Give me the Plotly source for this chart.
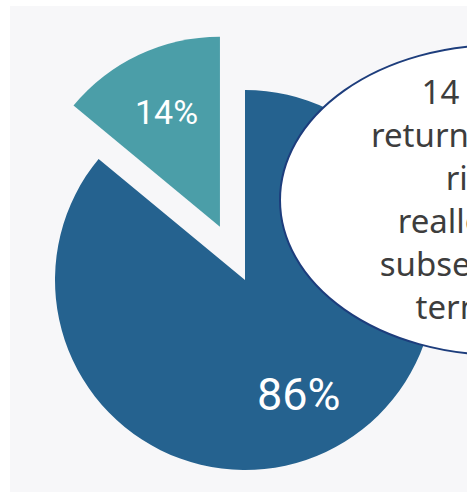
import math
import plotly.graph_objects as go

# Pie data: share of cases (percent) and slice styling, clockwise from 12 o'clock
labels = ["Remained", "Returned"]
shares = [86, 14]
slice_colors = ["#25628f", "#4b9ea8"]
pull = [0.0, 0.31]          # outward offset, as a fraction of the radius
label_sizes = [45, 34]

# Callout text, one entry per line
note_lines = [
    "14 percent",
    "returned to high-",
    "risk but",
    "reallocated to",
    "subsequent late",
    "term wards",
]

W, H = 467, 492
R = 190                      # pie radius in px
CX, CY = 245, 280            # pie centre in px (from top-left)
LABEL_R = 0.665              # label distance from slice centre, fraction of R
LABEL_FONT = "Roboto, sans-serif"
NOTE_FONT = "Noto Sans, Open Sans, sans-serif"


def pie_domain(cx, cy):
    return dict(x=[(cx - R) / W, (cx + R) / W],
                y=[(H - cy - R) / H, (H - cy + R) / H])


fig = go.Figure()

total = float(sum(shares))
n = len(shares)
acc = 0.0
for i in range(n):
    # mid angle of slice i, clockwise from 12 o'clock
    mid = (acc + shares[i] / 2.0) / total * 2 * math.pi
    acc += shares[i]
    ux, uy = math.sin(mid), -math.cos(mid)
    cx = CX + ux * pull[i] * R
    cy = CY + uy * pull[i] * R
    fig.add_trace(go.Pie(
        labels=labels,
        values=shares,
        sort=False,
        direction="clockwise",
        rotation=0,
        marker=dict(
            colors=[slice_colors[j] if j == i else "rgba(0,0,0,0)" for j in range(n)],
            line=dict(width=0),
        ),
        textinfo="none",
        domain=pie_domain(cx, cy),
        hoverinfo="skip",
        showlegend=False,
    ))
    # percentage label along the slice bisector
    lx = cx + ux * LABEL_R * R
    ly = cy + uy * LABEL_R * R
    fig.add_annotation(
        x=lx / W, y=(H - ly) / H, xref="paper", yref="paper",
        xanchor="center", yanchor="middle", showarrow=False,
        text=f"{shares[i] / total:.0%}",
        font=dict(family=LABEL_FONT, size=label_sizes[i], color="white"),
    )

# Light panel behind the chart
fig.add_shape(type="rect", xref="paper", yref="paper",
              x0=10 / W, x1=1.0, y0=0.0, y1=(H - 6) / H,
              fillcolor="#f7f7f9", line=dict(width=0), layer="below")

# Callout ellipse
ECX, ECY, EA, EB = 500, 200, 220, 155
fig.add_shape(type="circle", xref="paper", yref="paper",
              x0=(ECX - EA) / W, x1=(ECX + EA) / W,
              y0=(H - ECY - EB) / H, y1=(H - ECY + EB) / H,
              fillcolor="white", line=dict(color="#1d3d7c", width=2),
              layer="above")

fig.add_annotation(
    x=504 / W, y=(H - 199) / H, xref="paper", yref="paper",
    xanchor="center", yanchor="middle", align="center",
    text="<br>".join(note_lines), showarrow=False,
    font=dict(family=NOTE_FONT, size=33, color="#3d3d3d"),
)

fig.update_layout(
    width=W, height=H,
    margin=dict(l=0, r=0, t=0, b=0),
    paper_bgcolor="white",
    showlegend=False,
)

fig.write_html("out.html")
